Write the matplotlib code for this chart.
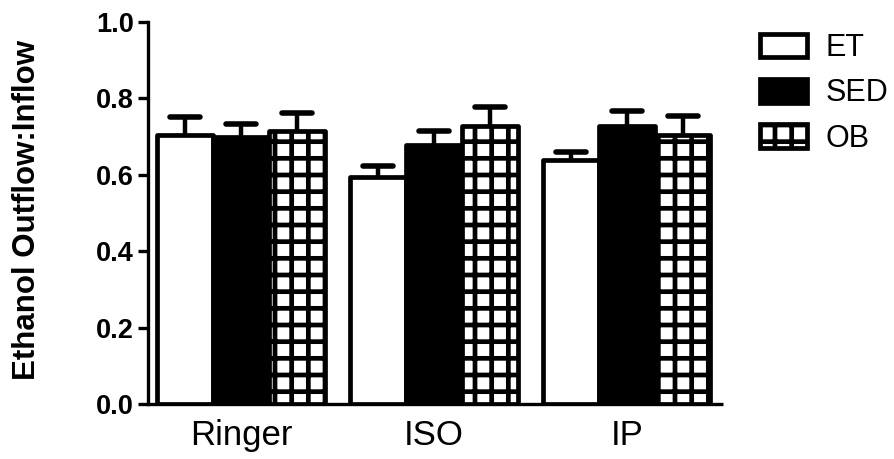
import matplotlib
matplotlib.use("Agg")
import matplotlib.pyplot as plt
import numpy as np

# ---- data ----
categories = ["Ringer", "ISO", "IP"]
series_names = ["ET", "SED", "OB"]
et_means = [0.705, 0.593, 0.639]
sed_means = [0.698, 0.678, 0.728]
ob_means = [0.715, 0.728, 0.704]
et_err = [0.047, 0.029, 0.020]
sed_err = [0.035, 0.037, 0.038]
ob_err = [0.048, 0.050, 0.049]
y_ticks = [0.0, 0.2, 0.4, 0.6, 0.8, 1.0]
y_tick_labels = ["0.0", "0.2", "0.4", "0.6", "0.8", "1.0"]
y_label = "Ethanol Outflow:Inflow"

plt.rcParams["font.family"] = ["Liberation Sans", "DejaVu Sans"]
plt.rcParams["hatch.linewidth"] = 3.4

fig = plt.figure(figsize=(8.94, 4.59), dpi=100)
ax = fig.add_axes([148 / 894, 1 - 404 / 459, (723 - 148) / 894, (404 - 22) / 459])

x = np.arange(len(categories))
w = 0.29
lw = 3.4
styles = [
    dict(facecolor="white", edgecolor="black", hatch=None),
    dict(facecolor="black", edgecolor="black", hatch=None),
    dict(facecolor="white", edgecolor="black", hatch="+"),
]
means = [et_means, sed_means, ob_means]
errs = [et_err, sed_err, ob_err]
handles = []
cap_half = 0.078
for i, (m, e, st, name) in enumerate(zip(means, errs, styles, series_names)):
    pos = x + (i - 1) * w
    # error bars (upper only)
    for px, mv, ev in zip(pos, m, e):
        ax.plot([px, px], [mv, mv + ev], color="black", lw=3.2,
                solid_capstyle="butt", zorder=2)
        ax.plot([px - cap_half, px + cap_half], [mv + ev, mv + ev],
                color="black", lw=4.0, solid_capstyle="round", zorder=2)
    b = ax.bar(pos, m, width=w, facecolor=st["facecolor"], edgecolor=st["edgecolor"],
               hatch=st["hatch"], linewidth=lw, joinstyle="round", zorder=3,
               label=name)
    handles.append(b)

ax.set_xlim(-0.484, 2.5)
ax.set_ylim(0, 1.0)
ax.set_xticks(x)
ax.set_xticklabels(categories, fontsize=25)
ax.tick_params(axis="x", length=0, pad=11)
ax.set_yticks(y_ticks)
ax.set_yticklabels(y_tick_labels, fontsize=19.5, fontweight="bold")
ax.tick_params(axis="y", length=7, width=2.4, pad=3)
for s in ["top", "right"]:
    ax.spines[s].set_visible(False)
for s in ["left", "bottom"]:
    ax.spines[s].set_linewidth(2.4)
ax.spines["bottom"].set_capstyle("butt")

fig.text(27 / 894, 1 - 210 / 459, y_label, rotation=90, fontsize=22.5,
         fontweight="bold", ha="center", va="center")

leg = ax.legend(handles=handles, loc="upper left",
                bbox_to_anchor=(760 / 894, 1 - 33 / 459),
                bbox_transform=fig.transFigure, frameon=False,
                fontsize=22, handlelength=1.54, handleheight=0.82,
                handletextpad=0.6, labelspacing=0.5, borderpad=0,
                borderaxespad=0)

fig.savefig("out.png", dpi=100)
